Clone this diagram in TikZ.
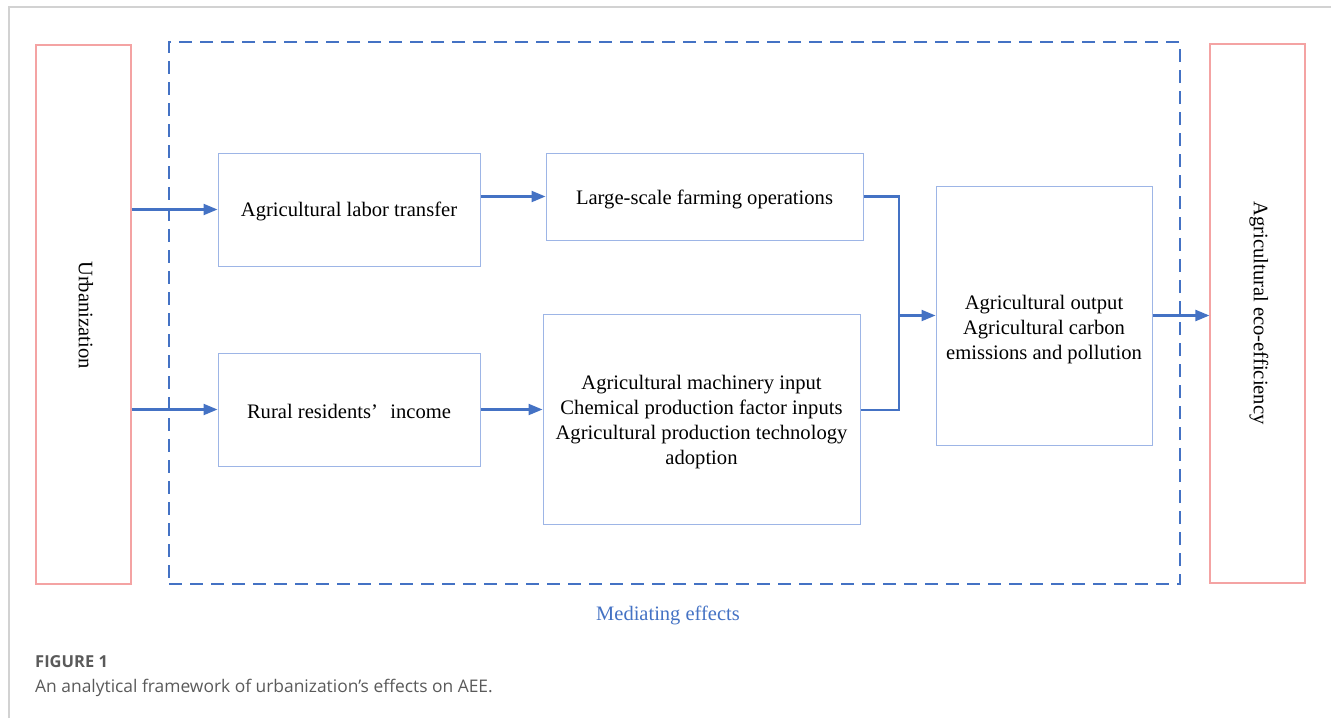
\documentclass[tikz,border=0pt]{standalone}
\usepackage{fontspec}
\setmainfont{Liberation Serif}
\newfontfamily\capfont{Open Sans}
\usetikzlibrary{arrows.meta}
\definecolor{arrowblue}{HTML}{4472C4}
\definecolor{boxblue}{HTML}{9DB5E6}
\definecolor{boxred}{HTML}{F4A3A3}
\definecolor{framegrey}{HTML}{D2D2D2}
\definecolor{capgrey}{HTML}{5A5A5A}
\tikzset{
  boxfont/.style={font=\fontsize{20.6}{25}\selectfont},
  endbox/.style={draw=boxred, line width=1.2pt, minimum width=95pt, minimum height=539pt,
    inner sep=0pt},
  stagebox/.style={draw=boxblue, line width=1pt, inner sep=0pt},
  boxtext/.style={boxfont, align=center, inner sep=0pt},
  medbox/.style={draw=arrowblue, line width=2pt, dash pattern=on 13pt off 8pt,
    minimum width=1011pt, minimum height=542pt, inner sep=0pt},
  flow/.style={draw=arrowblue, line width=2.2pt,
    -{Triangle[length=14pt,width=11pt]}},
  link/.style={draw=arrowblue, line width=2.2pt},
}
\begin{document}
\begin{tikzpicture}[x=1pt,y=-1pt]
\useasboundingbox (0,0) rectangle (1331,718);
% page frame
\draw[framegrey, line width=1.5pt] (9,718) -- (9,7) -- (1331,7);

% mediating frame and label
\node[medbox] (med) at (674.5,313) {};
\node[text=arrowblue, font=\fontsize{20.5}{24}\selectfont] (medlabel) at (668,615) {Mediating effects};

% outer boxes
\node[endbox] (urb) at (83.5,314.5) {};
\node[rotate=-90, boxfont] (urbtext) at (86,315) {Urbanization};
\node[endbox] (aee) at (1257.5,313.5) {};
\node[rotate=-90, boxfont] (aeetext) at (1259,313) {Agricultural eco-efficiency};

% stage boxes
\node[stagebox, minimum width=262pt, minimum height=113pt] (labor) at (349,209.5) {};
\node[boxtext] (labortext) at (349,211) {Agricultural labor transfer};
\node[stagebox, minimum width=317pt, minimum height=87pt] (large) at (704.5,196.5) {};
\node[boxtext] (largetext) at (704.5,199) {Large-scale farming operations};
\node[stagebox, minimum width=262pt, minimum height=113pt] (income) at (349,409.5) {};
\node[boxtext] (incometext) at (349,411) {Rural residents’\hspace{0.6em}income};
\node[stagebox, minimum width=317pt, minimum height=210pt] (mach) at (701.5,419) {};
\node[boxtext] (machtext) at (701.5,422)
  {Agricultural machinery input\\Chemical production factor inputs\\Agricultural production technology\\adoption};
\node[stagebox, minimum width=216pt, minimum height=259pt] (out) at (1044,315.5) {};
\node[boxtext] (outtext) at (1044,330)
  {Agricultural output\\Agricultural carbon\\emissions and pollution};

% connectors
\coordinate (j) at (899,315.5);
\coordinate (machout) at ([yshift=9pt]mach.east);
\draw[flow] (urb.east |- labor.west) -- (labor.west);
\draw[flow] (urb.east |- income.west) -- (income.west);
\draw[flow] (labor.east |- large.west) -- (large.west);
\draw[flow] (income.east) -- (income.east -| mach.west);
\draw[link] (large.east) -- (j |- large.east) -- (j);
\draw[link] (machout) -- (j |- machout) -- (j);
\draw[flow] (j) -- (j -| out.west);
\draw[flow] (out.east) -- (out.east -| aee.west);

% caption
\node[anchor=base west, text=capgrey, inner sep=0pt, font=\capfont\bfseries\fontsize{16.5}{20}\selectfont] (figno) at (35,667) {FIGURE 1};
\node[anchor=base west, text=capgrey, inner sep=0pt, font=\capfont\fontsize{17.4}{20}\selectfont] (captext) at (35,692)
  {An analytical framework of urbanization’s effects on AEE.};
\end{tikzpicture}
\end{document}
